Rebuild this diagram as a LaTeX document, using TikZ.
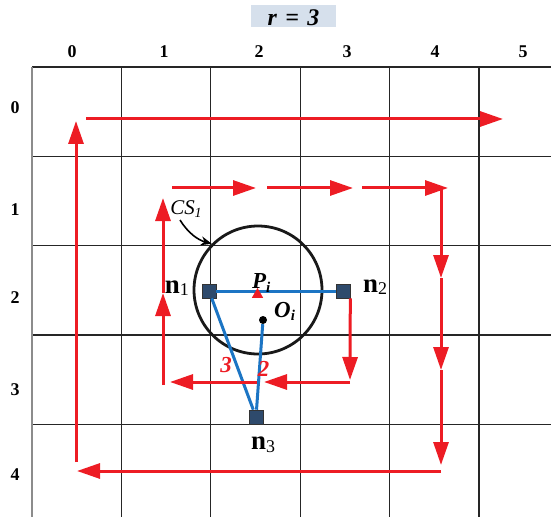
\documentclass[tikz,border=0pt]{standalone}
\usepackage{fontspec}
\setmainfont{Liberation Serif}
\usepackage{tikz}
\usetikzlibrary{arrows.meta, shapes.geometric}
\definecolor{myred}{RGB}{237,28,36}
\definecolor{myblue}{RGB}{28,117,196}
\definecolor{mynavy}{RGB}{46,74,108}
\definecolor{mygray}{RGB}{214,224,236}
\tikzstyle{flow} = [line width=3bp, myred, -{Triangle[length=23bp, width=15bp]}]
\tikzstyle{link} = [line width=3bp, myblue]

\begin{document}
\begin{tikzpicture}[x=1bp, y=-1bp,
    cell/.style={line width=1.3bp, black!85},
    sensor/.style={rectangle, draw=black!80, fill=mynavy, line width=0.6bp, minimum size=14bp, inner sep=0pt},
    idx/.style={font=\fontsize{18}{18}\selectfont\bfseries},
    nlabel/.style={font=\fontsize{27}{27}\selectfont\bfseries, inner sep=0pt},
    mathlbl/.style={font=\fontsize{23}{23}\selectfont\bfseries\itshape, inner sep=0pt}]
    \useasboundingbox (0,0) rectangle (551,517);
    % grid cells
    \foreach \k in {1,...,5}
        \draw[cell] ({32+89.4*\k},67) -- ({32+89.4*\k},517);
    \foreach \k in {0,...,4}
        \draw[cell] (32,{67+89.3*\k}) -- (551,{67+89.3*\k});
    \draw[line width=1.5bp, black!45] (32,67) -- (32,517);
    \foreach \c/\x in {0/72,1/164,2/259,3/347,4/435,5/523}
        \node[idx] (col\c) at (\x,52) {\c};
    \foreach \r/\y in {0/108,1/210,2/298,3/390,4/475}
        \node[idx] (row\r) at (15,\y) {\r};
    \node[fill=mygray, minimum width=85bp, minimum height=22bp, inner sep=0pt, text height=20bp, text depth=0pt,
          font=\fontsize{24}{24}\selectfont\bfseries\itshape] (title) at (293.5,16) {r\hspace{0.35em}=\hspace{0.35em}3};

    % coverage circle
    \node[circle, draw=black!90, line width=2.8bp, minimum size=128bp, inner sep=0pt] (cs) at (258,290) {};
    \node[font=\fontsize{21}{21}\selectfont\itshape, inner sep=0pt] (cslabel) at (186,209) {CS\raisebox{-3bp}{\fontsize{14}{14}\selectfont 1}};
    \coordinate (csfrom) at (180,220);
    \draw[line width=1.6bp, -{Stealth[length=11bp, width=9bp]}] (csfrom) .. controls (188,233) and (198,240) .. (cs.135);

    % sensors
    \node[sensor] (n1) at (209,291) {};
    \node[sensor] (n2) at (343,291) {};
    \node[sensor] (n3) at (256,417) {};
    \node[circle, fill=black, minimum size=8bp, inner sep=0pt] (oi) at (263,320) {};
    \draw[link] (n1) -- (n2);
    \draw[link] (n1) -- (n3);
    \draw[link] (oi) -- (n3);
    \node[regular polygon, regular polygon sides=3, fill=myred, minimum size=13bp, inner sep=0pt] (pi) at (257.5,294.5) {};

    \node[nlabel, anchor=base east] (n1lbl) at (189,293) {n\raisebox{-2bp}{\fontsize{18}{18}\selectfont\mdseries 1}};
    \node[nlabel, anchor=base west] (n2lbl) at (363,292) {n\raisebox{-2bp}{\fontsize{18}{18}\selectfont\mdseries 2}};
    \node[nlabel, anchor=base west] (n3lbl) at (251,449) {n\raisebox{-3bp}{\fontsize{18}{18}\selectfont\mdseries 3}};
    \node[mathlbl, anchor=base west] (pilbl) at (252,288) {P\raisebox{-4bp}{\fontsize{15}{15}\selectfont i}};
    \node[mathlbl, anchor=base west] (oilbl) at (274,317) {O\raisebox{-3bp}{\fontsize{15}{15}\selectfont i}};
    \node[mathlbl, text=myred] (d13) at (226,365) {3};
    \node[mathlbl, text=myred] (d23) at (263.5,368.5) {2};

    % travelling route
    \coordinate (u0) at (86,119);   \coordinate (u1) at (503,119);
    \coordinate (t0) at (172,188);  \coordinate (t1) at (256,188);
    \coordinate (t2) at (267,188);  \coordinate (t3) at (353,188);
    \coordinate (t4) at (362,188);  \coordinate (t5) at (448,188);
    \coordinate (r0) at (441,188);  \coordinate (r1) at (441,278);
    \coordinate (r2) at (441,370);  \coordinate (r3) at (441,465);
    \coordinate (b0) at (441,471);  \coordinate (b1) at (77,471);
    \coordinate (l0) at (76,462);   \coordinate (l1) at (76,121);
    \coordinate (s1) at (350,380);  \coordinate (s2) at (350,382);
    \coordinate (s3) at (264,382);  \coordinate (s4) at (257,382);
    \coordinate (s5) at (170,382);  \coordinate (s6) at (163,385);
    \coordinate (s7) at (163,293);  \coordinate (s8) at (163,198);
    \foreach \a/\b in {u0/u1, t0/t1, t2/t3, t4/t5, r0/r1, r1/r2, r2/r3, b0/b1, l0/l1, s2/s3, s4/s5, s6/s7, s7/s8}
        \draw[flow] (\a) -- (\b);
    \draw[flow] (n2.south east) -- (s1);
\end{tikzpicture}
\end{document}
